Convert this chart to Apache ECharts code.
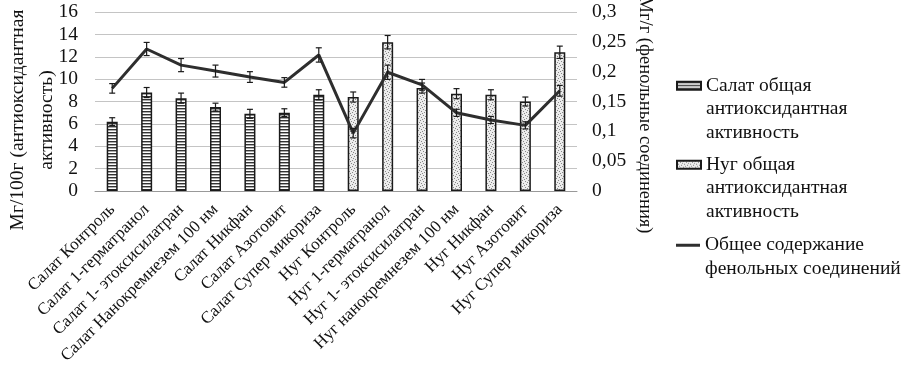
<!DOCTYPE html>
<html>
<head>
<meta charset="utf-8">
<script src="https://cdn.jsdelivr.net/npm/echarts@6/dist/echarts.min.js"></script>
<style>
  html, body { margin: 0; padding: 0; background: #fff; }
  #chart { width: 912px; height: 372px; }
</style>
</head>
<body>
<div id="chart"></div>
<script>
//данные
var categories = [
    "Салат Контроль", "Салат 1-герматранол", "Салат 1- этоксисилатран",
    "Салат Нанокремнезем 100 нм", "Салат Никфан", "Салат Азотовит", "Салат Супер микориза",
    "Нуг Контроль", "Нуг 1-герматранол", "Нуг 1- этоксисилатран",
    "Нуг нанокремнезем 100 нм", "Нуг Никфан", "Нуг Азотовит", "Нуг Супер микориза"
];
var salatValues = [6.2, 8.8, 8.3, 7.5, 6.9, 7.0, 8.6, "-", "-", "-", "-", "-", "-", "-"];
var salatErr = [0.35, 0.45, 0.45, 0.35, 0.4, 0.35, 0.45, 0, 0, 0, 0, 0, 0, 0];
var nugValues = ["-", "-", "-", "-", "-", "-", "-", 8.4, 13.3, 9.2, 8.7, 8.6, 8.0, 12.4];
var nugErr = [0, 0, 0, 0, 0, 0, 0, 0.45, 0.6, 0.45, 0.45, 0.45, 0.4, 0.55];
var phenolValues = [0.172, 0.238, 0.211, 0.201, 0.191, 0.182, 0.228, 0.097, 0.199, 0.178, 0.131, 0.119, 0.110, 0.168];
var phenolErr = [0.008, 0.011, 0.011, 0.01, 0.009, 0.008, 0.012, 0.008, 0.012, 0.009, 0.006, 0.006, 0.006, 0.009];
var leftTicks = [0, 16, 2];
var rightTicks = [0, 0.3, 0.05];

var seriesNames = [
    "Салат общая антиоксидантная активность",
    "Нуг общая антиоксидантная активность",
    "Общее содержание фенольных соединений"
];
// пустые строки сверху, чтобы значок стоял у первой строки
var legendLabels = [
    "\n\nСалат общая\nантиоксидантная\nактивность",
    "\n\nНуг общая\nантиоксидантная\nактивность",
    "\nОбщее содержание\nфенольных соединений"
];

var serif = '"Liberation Serif", "Times New Roman", serif';

//штриховка для салата
function stripePattern() {
    var c = document.createElement("canvas");
    c.width = 4; c.height = 3;
    var ctx = c.getContext("2d");
    ctx.fillStyle = "#fff"; ctx.fillRect(0, 0, 4, 3);
    ctx.fillStyle = "#333"; ctx.fillRect(0, 0, 4, 1);
    ctx.fillStyle = "#aaa"; ctx.fillRect(0, 1, 4, 1);
    return c;
}
//точки для нуга
function dotPattern() {
    var c = document.createElement("canvas");
    c.width = 6; c.height = 6;
    var ctx = c.getContext("2d");
    ctx.fillStyle = "#ececec"; ctx.fillRect(0, 0, 6, 6);
    ctx.fillStyle = "#888";
    var dots = [[0, 0], [3, 1], [1, 3], [4, 4], [5, 2], [2, 5]];
    for (var i = 0; i < dots.length; i++) ctx.fillRect(dots[i][0], dots[i][1], 1, 1);
    return c;
}

function errorRender(values, errs) {
    return function(params, api) {
        var i = api.value(0);
        var v = values[i];
        if (v === "-" || !errs[i]) return;
        var top = api.coord([i, v + errs[i]]);
        var bot = api.coord([i, v - errs[i]]);
        var st = { stroke: "#1a1a1a", lineWidth: 1.2 };
        return {
            type: "group",
            children: [
                { type: "line", shape: { x1: top[0], y1: top[1], x2: bot[0], y2: bot[1] }, style: st },
                { type: "line", shape: { x1: top[0] - 3, y1: top[1], x2: top[0] + 3, y2: top[1] }, style: st },
                { type: "line", shape: { x1: bot[0] - 3, y1: bot[1], x2: bot[0] + 3, y2: bot[1] }, style: st }
            ]
        };
    };
}

var idx = categories.map(function(c, i) { return [i]; });

var chart = echarts.init(document.getElementById("chart"));

var legendBase = {
    orient: "vertical",
    left: 676,
    padding: 0,
    icon: "rect",
    itemWidth: 24,
    itemHeight: 8,
    selectedMode: false,
    textStyle: { fontFamily: serif, fontSize: 19.5, color: "#111", lineHeight: 23.5 },
    formatter: function(name) { return legendLabels[seriesNames.indexOf(name)]; }
};

var option = {
    animation: false,
    grid: { left: 95, right: 335, top: 12, bottom: 181 },
    legend: [
        Object.assign({}, legendBase, { top: 86 - 59, data: [seriesNames[0]] }),
        Object.assign({}, legendBase, { top: 165 - 59, data: [seriesNames[1]] }),
        Object.assign({}, legendBase, { top: 245 - 35, data: [seriesNames[2]], itemHeight: 3 })
    ],
    xAxis: {
        type: "category",
        data: categories,
        axisLine: { lineStyle: { color: "#999" } },
        axisTick: { show: false },
        axisLabel: { interval: 0, rotate: 45, margin: 16, fontFamily: serif, fontSize: 17, color: "#111" }
    },
    yAxis: [
        {
            type: "value",
            min: leftTicks[0], max: leftTicks[1], interval: leftTicks[2],
            axisLine: { show: false },
            axisTick: { show: false },
            splitLine: { lineStyle: { color: "#c4c4c4" } },
            axisLabel: { margin: 17, fontFamily: serif, fontSize: 19.5, color: "#111" }
        },
        {
            type: "value",
            min: rightTicks[0], max: rightTicks[1], interval: rightTicks[2],
            axisLine: { show: false },
            axisTick: { show: false },
            splitLine: { show: false },
            axisLabel: {
                margin: 15, fontFamily: serif, fontSize: 19.5, color: "#111",
                formatter: function(v) { return String(+v.toFixed(2)).replace(".", ","); }
            }
        }
    ],
    graphic: [
        {
            type: "text", x: 32, y: 120, rotation: Math.PI / 2,
            style: { text: "Мг/100г (антиоксидантная\nактивность)", align: "center", verticalAlign: "middle",
                font: "19.5px " + serif, lineHeight: 29, fill: "#111" }
        },
        {
            type: "text", x: 645, y: 115, rotation: -Math.PI / 2,
            style: { text: "Мг/г (фенольные соединения)", align: "center", verticalAlign: "middle",
                font: "18.5px " + serif, fill: "#111" }
        }
    ],
    series: [
        {
            name: seriesNames[0],
            type: "bar",
            data: salatValues,
            barWidth: 11,
            barGap: "-100%",
            itemStyle: { color: { image: stripePattern(), repeat: "repeat" }, borderColor: "#1a1a1a", borderWidth: 1.5 }
        },
        {
            name: seriesNames[1],
            type: "bar",
            data: nugValues,
            barWidth: 11,
            barGap: "-100%",
            itemStyle: { color: { image: dotPattern(), repeat: "repeat" }, borderColor: "#1a1a1a", borderWidth: 1.5 }
        },
        {
            name: seriesNames[2],
            type: "line",
            yAxisIndex: 1,
            data: phenolValues,
            symbol: "none",
            z: 5,
            lineStyle: { color: "#2e2e2e", width: 3 },
            itemStyle: { color: "#2e2e2e" }
        },
        {
            type: "custom",
            data: idx,
            z: 4,
            renderItem: errorRender(salatValues, salatErr)
        },
        {
            type: "custom",
            data: idx,
            z: 4,
            renderItem: errorRender(nugValues, nugErr)
        },
        {
            type: "custom",
            yAxisIndex: 1,
            data: idx,
            z: 6,
            renderItem: errorRender(phenolValues, phenolErr)
        }
    ]
};

chart.setOption(option);
</script>
</body>
</html>
